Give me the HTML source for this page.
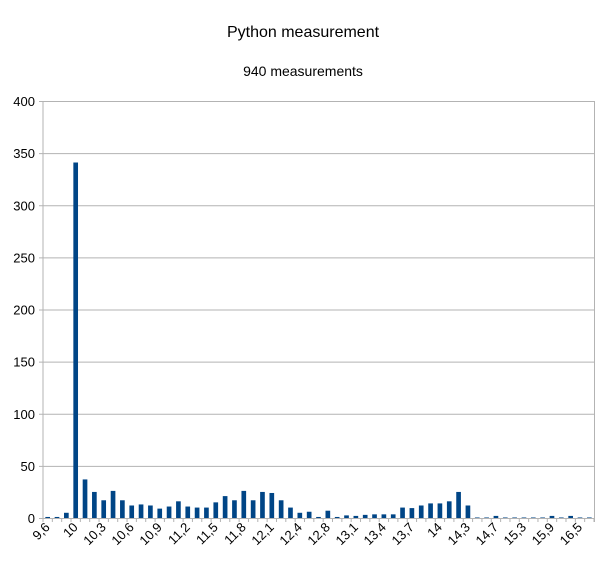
<!DOCTYPE html>
<html><head><meta charset="utf-8"><style>
body{margin:0;background:#fff;}
svg{display:block;font-family:"Liberation Sans",sans-serif;}
</style></head><body>
<svg id="chart" width="605" height="569" viewBox="0 0 605 569">
<text x="303" y="37" text-anchor="middle" font-size="16" fill="#000">Python measurement</text>
<text x="303" y="76" text-anchor="middle" font-size="14" fill="#000">940 measurements</text>
<g id="grid"></g><g id="bars"></g><g id="axes"></g>
</svg>
<script>
const categories=["9,6","9,8","9,9","10","10,1","10,2","10,3","10,4","10,5","10,6","10,7","10,8","10,9","11","11,1","11,2","11,3","11,4","11,5","11,6","11,7","11,8","11,9","12","12,1","12,2","12,3","12,4","12,5","12,7","12,8","12,9","13","13,1","13,2","13,3","13,4","13,5","13,6","13,7","13,8","13,9","14","14,1","14,2","14,3","14,4","14,6","14,7","14,9","15,1","15,3","15,5","15,7","15,9","16,1","16,3","16,5","16,6"];
const counts=[1,1,5,341,37,25,17,26,17,12,13,12,9,11,16,11,10,10,15,21,17,26,17,25,24,17,10,5,6,1,7,1,2.5,2,3,3.5,3.5,3.5,10,9.5,12,14,14,16,25,12,0.5,0.5,2,0.5,0.5,0.5,0.5,0.5,2,0.5,2,0.5,0.5];
const yTicks=[0,50,100,150,200,250,300,350,400];
const NS="http://www.w3.org/2000/svg";
const L=43,R=594,T=101,B=518,yMax=400;
const slot=(R-L)/categories.length;
const y=v=>B-(v/yMax)*(B-T);
const x=i=>L+i*slot;
const grid=document.getElementById('grid'),bars=document.getElementById('bars'),axes=document.getElementById('axes');
function mk(tag,attrs,parent){const e=document.createElementNS(NS,tag);for(const k in attrs)e.setAttribute(k,attrs[k]);parent.appendChild(e);return e;}
yTicks.forEach(t=>{
 const g=mk('line',{x1:L-4,x2:R,y1:y(t)+0.5,y2:y(t)+0.5,stroke:'#b3b3b3','stroke-width':1},grid);
 
 
 const tx=mk('text',{x:L-8,y:y(t)+5,'text-anchor':'end','font-size':13,fill:'#000'},axes);
 tx.textContent=t;
 
 
});
const bw=slot*0.5;
counts.forEach((v,i)=>{
 const r=mk('rect',{x:x(i)+(slot-bw)/2,y:y(v),width:bw,height:B-y(v),fill:'#004586'},bars);
 
 
});
const ax=mk('line',{x1:L,x2:L,y1:T,y2:B,stroke:'#b3b3b3'},axes);


const ax2=mk('line',{x1:R+0.5,x2:R+0.5,y1:T,y2:B+4,stroke:'#b3b3b3'},axes);


for(let i=0;i<=categories.length;i++){
 const tk=mk('line',{x1:x(i),x2:x(i),y1:B,y2:B+4,stroke:'#b3b3b3'},axes);
 
 
}
categories.forEach((c,i)=>{
 if(i%3!==0)return;
 const cx=x(i)+slot/2+3,cy=B+10;
 const t=mk('text',{x:cx,y:cy,'text-anchor':'end','font-size':13,fill:'#000',transform:`rotate(-45 ${cx} ${cy})`},axes);
 t.textContent=c;
 
 
});
</script>
</body></html>
